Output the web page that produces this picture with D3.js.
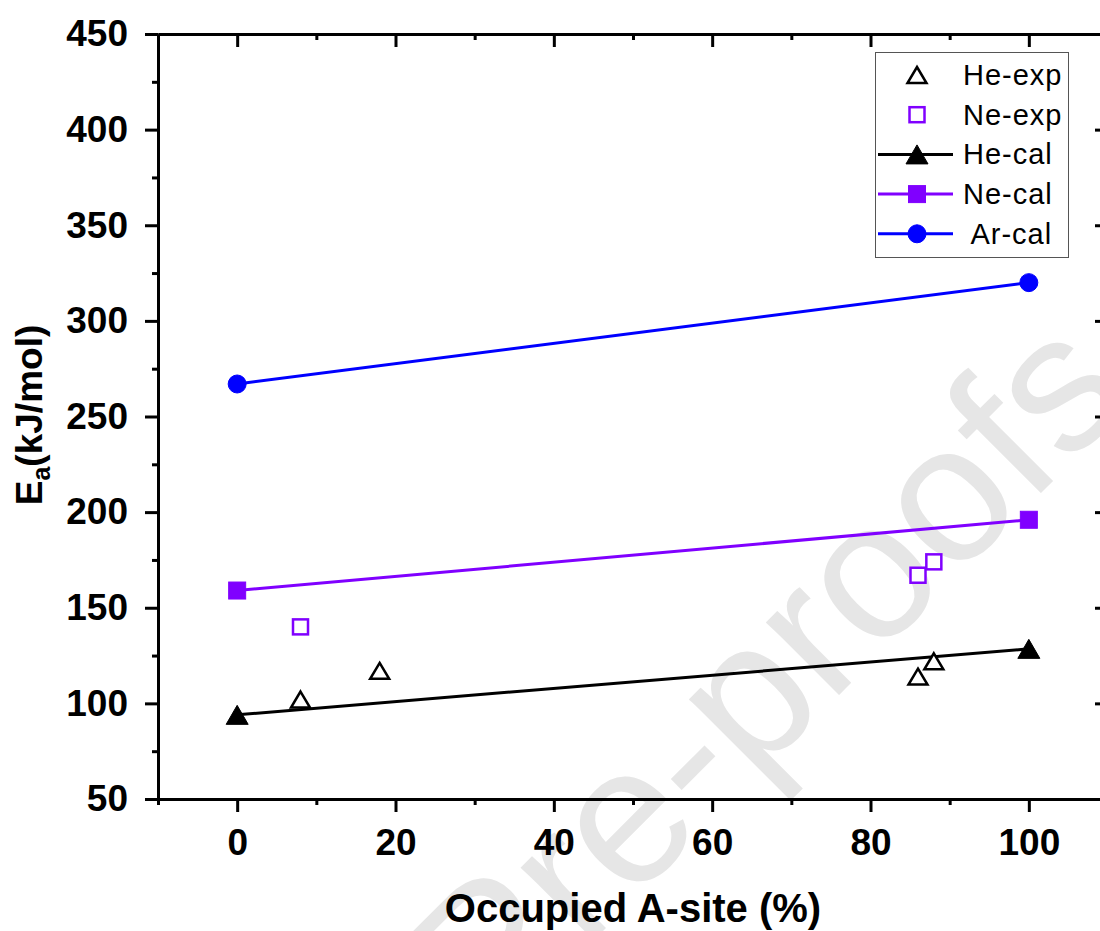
<!DOCTYPE html>
<html>
<head>
<meta charset="utf-8">
<script src="https://cdn.jsdelivr.net/npm/d3@7"></script>
<style>
  body { margin: 0; background: #fff; }
  svg { display: block; font-family: "Liberation Sans", Arial, sans-serif; }
</style>
</head>
<body>
<svg id="chart" width="1100" height="931"></svg>
<script>
// data
var heExpX = [8, 18, 86, 88];
var heExpY = [102, 117, 114, 122];
var neExpX = [8, 86, 88];
var neExpY = [140, 167, 174];
var calX = [0, 100];
var heCalY = [94, 128.5];
var neCalY = [159, 196];
var arCalY = [267, 320];

var xMajor = [0, 20, 40, 60, 80, 100];
var xMinor = [-10, 10, 30, 50, 70, 90, 110];
var yMajor = [50, 100, 150, 200, 250, 300, 350, 400, 450];
var yMinor = [75, 125, 175, 225, 275, 325, 375, 425];

var legendNames = ["He-exp", "Ne-exp", "He-cal", "Ne-cal", " Ar-cal"];

var black = "#000", violet = "#8000ff", blue = "#0000ff";

window.onload = function() {
  makeChart();
};

function tri(w, h) {
  return "M0," + (-h / 2) + "L" + (w / 2) + "," + (h / 2) + "L" + (-w / 2) + "," + (h / 2) + "Z";
}

function makeChart() {
  var svg = d3.select("#chart");
  var left = 158, right = 1108, top = 34, bottom = 799;

  var x = d3.scaleLinear().domain([-10, 110]).range([left, right]);
  var y = d3.scaleLinear().domain([50, 450]).range([bottom, top]);

  // watermark
  svg.append("text")
    .attr("transform", "translate(1136,398) rotate(-45)")
    .attr("text-anchor", "end")
    .style("font-size", "195px")
    .style("fill", "#e6e6e6")
    .text("Journal Pre-proofs");

  // axes: major with labels, minor without
  function styleAxis(g) {
    g.selectAll("path, line").attr("stroke", "#000").attr("stroke-width", 3);
    g.selectAll("text").attr("fill", "#000").style("font-size", "37px").style("font-weight", "bold");
  }

  svg.append("g").attr("transform", "translate(0," + bottom + ")")
    .call(d3.axisBottom(x).tickValues(xMajor).tickSize(13).tickSizeOuter(0).tickPadding(17).tickFormat(d3.format("d")))
    .call(styleAxis);
  svg.append("g").attr("transform", "translate(0," + bottom + ")")
    .call(d3.axisBottom(x).tickValues(xMinor).tickSize(6).tickSizeOuter(0).tickFormat(""))
    .call(styleAxis);

  svg.append("g").attr("transform", "translate(" + left + ",0)")
    .call(d3.axisLeft(y).tickValues(yMajor).tickSize(13).tickSizeOuter(0).tickPadding(17).tickFormat(d3.format("d")))
    .call(styleAxis);
  svg.append("g").attr("transform", "translate(" + left + ",0)")
    .call(d3.axisLeft(y).tickValues(yMinor).tickSize(6).tickSizeOuter(0).tickFormat(""))
    .call(styleAxis);

  // mirrored top / right axes, inward ticks
  svg.append("g").attr("transform", "translate(0," + top + ")")
    .call(d3.axisTop(x).tickValues(xMajor).tickSize(-13).tickSizeOuter(0).tickFormat(""))
    .call(styleAxis);
  svg.append("g").attr("transform", "translate(0," + top + ")")
    .call(d3.axisTop(x).tickValues(xMinor.slice(1, -1)).tickSize(-6).tickSizeOuter(0).tickFormat(""))
    .call(styleAxis);
  svg.append("g").attr("transform", "translate(" + right + ",0)")
    .call(d3.axisRight(y).tickValues(yMajor).tickSize(-13).tickSizeOuter(0).tickFormat(""))
    .call(styleAxis);
  svg.append("g").attr("transform", "translate(" + right + ",0)")
    .call(d3.axisRight(y).tickValues(yMinor).tickSize(-6).tickSizeOuter(0).tickFormat(""))
    .call(styleAxis);

  // axis titles
  svg.append("text")
    .attr("x", 633).attr("y", 922)
    .attr("text-anchor", "middle")
    .style("font-size", "40px").style("font-weight", "bold")
    .text("Occupied A-site (%)");

  var yt = svg.append("text")
    .attr("transform", "translate(42,415) rotate(-90)")
    .attr("text-anchor", "middle")
    .style("font-size", "37px").style("font-weight", "bold");
  yt.append("tspan").text("E");
  yt.append("tspan").attr("dy", 8).style("font-size", "25px").text("a");
  yt.append("tspan").attr("dy", -8).text("(kJ/mol)");

  // calculated lines
  var line = d3.line().x(function(d) { return x(d[0]); }).y(function(d) { return y(d[1]); });
  var calSeries = [
    { ys: heCalY, color: black, shape: "tri" },
    { ys: neCalY, color: violet, shape: "sq" },
    { ys: arCalY, color: blue, shape: "circ" }
  ];

  calSeries.forEach(function(s) {
    var pts = calX.map(function(v, i) { return [v, s.ys[i]]; });
    svg.append("path").datum(pts).attr("d", line)
      .attr("fill", "none").attr("stroke", s.color).attr("stroke-width", 3);
    pts.forEach(function(p) {
      drawMarker(svg, s.shape, x(p[0]), y(p[1]), s.color, true);
    });
  });

  // experimental points
  heExpX.forEach(function(v, i) {
    drawMarker(svg, "tri", x(v), y(heExpY[i]), black, false);
  });
  neExpX.forEach(function(v, i) {
    drawMarker(svg, "sq", x(v), y(neExpY[i]), violet, false);
  });

  // legend
  var lg = svg.append("g");
  lg.append("rect").attr("x", 875.5).attr("y", 52.5).attr("width", 193).attr("height", 205)
    .attr("fill", "#fff").attr("stroke", "#555").attr("stroke-width", 1);
  var rows = [
    { shape: "tri", color: black, filled: false, line: false },
    { shape: "sq", color: violet, filled: false, line: false },
    { shape: "tri", color: black, filled: true, line: true },
    { shape: "sq", color: violet, filled: true, line: true },
    { shape: "circ", color: blue, filled: true, line: true }
  ];
  rows.forEach(function(r, i) {
    var cy = 75 + i * 39.7;
    if (r.line) {
      lg.append("line").attr("x1", 878).attr("x2", 953).attr("y1", cy).attr("y2", cy)
        .attr("stroke", r.color).attr("stroke-width", 3);
    }
    drawMarker(lg, r.shape, 917, cy, r.color, r.filled);
    lg.append("text").attr("x", 963).attr("y", cy + 10)
      .style("font-size", "29px").style("letter-spacing", "1px")
      .style("white-space", "pre").attr("xml:space", "preserve")
      .text(legendNames[i]);
  });
}

function drawMarker(g, shape, cx, cy, color, filled) {
  var m;
  if (shape === "tri") {
    m = g.append("path").attr("d", filled ? tri(22, 19) : tri(19, 16));
  } else if (shape === "sq") {
    var s = filled ? 17 : 15;
    m = g.append("rect").attr("x", -s / 2).attr("y", -s / 2).attr("width", s).attr("height", s);
  } else {
    m = g.append("circle").attr("r", 9);
  }
  m.attr("transform", "translate(" + cx + "," + cy + ")")
    .attr("fill", filled ? color : "#fff")
    .attr("stroke", color)
    .attr("stroke-width", filled ? 1 : 2.5)
    .attr("stroke-linejoin", "miter");
}
</script>
</body>
</html>
